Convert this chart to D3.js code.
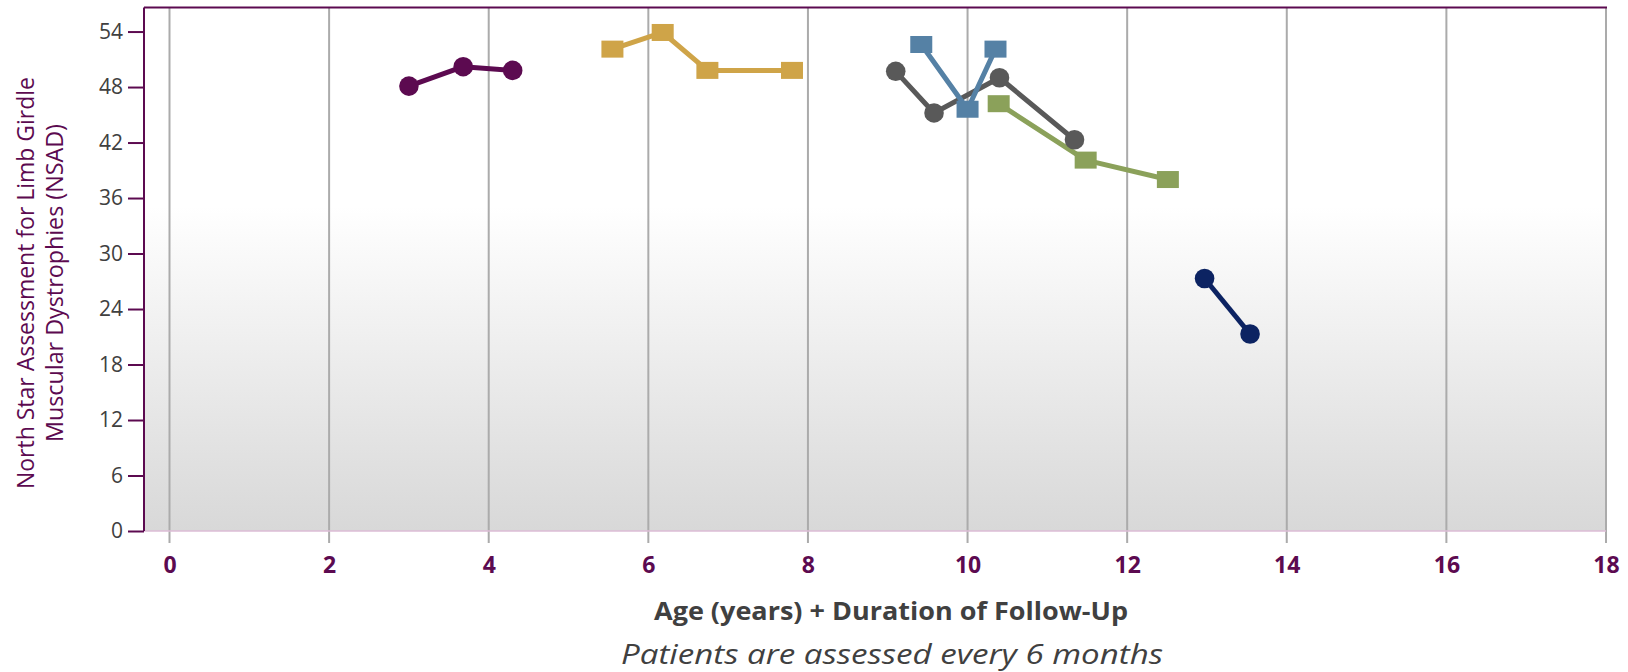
<!DOCTYPE html>
<html>
<head>
<meta charset="utf-8">
<script src="https://cdn.jsdelivr.net/npm/d3@7"></script>
<style>
  html, body { margin: 0; padding: 0; background: #ffffff; }
  svg { display: block; }
</style>
</head>
<body>
<svg id="chart" width="1628" height="672"></svg>
<script>
// ---------- data ----------
const xTicks = [0, 2, 4, 6, 8, 10, 12, 14, 16, 18];
const yTicks = [0, 6, 12, 18, 24, 30, 36, 42, 48, 54];

const patientA = [ {x: 3.00, y: 48.1}, {x: 3.68, y: 50.2}, {x: 4.30, y: 49.8} ];
const patientB = [ {x: 5.55, y: 52.1}, {x: 6.18, y: 53.9}, {x: 6.74, y: 49.8}, {x: 7.80, y: 49.8} ];
const patientE = [ {x: 10.39, y: 46.2}, {x: 11.48, y: 40.1}, {x: 12.51, y: 38.0} ];
const patientD = [ {x: 9.10, y: 49.7}, {x: 9.58, y: 45.2}, {x: 10.40, y: 49.0}, {x: 11.34, y: 42.3} ];
const patientC = [ {x: 9.42, y: 52.6}, {x: 10.00, y: 45.6}, {x: 10.35, y: 52.1} ];
const patientF = [ {x: 12.97, y: 27.3}, {x: 13.54, y: 21.3} ];

const series = [
  { name: "A", data: patientA, color: "#5c0a50", marker: "circle" },
  { name: "B", data: patientB, color: "#cfa448", marker: "square" },
  { name: "E", data: patientE, color: "#8ba15a", marker: "square" },
  { name: "D", data: patientD, color: "#595959", marker: "circle" },
  { name: "C", data: patientC, color: "#5581a5", marker: "square" },
  { name: "F", data: patientF, color: "#0c2362", marker: "circle" }
];

const xTitle = "Age (years) + Duration of Follow-Up";
const subTitle = "Patients are assessed every 6 months";
const yTitle = ["North Star Assessment for Limb Girdle", "Muscular Dystrophies (NSAD)"];

// ---------- layout ----------
const svg = d3.select("#chart");
const purple = "#5c0a50";
const font = "'Open Sans', 'Noto Sans', sans-serif";

const x = d3.scaleLinear().domain([0, 18]).range([169.5, 1606]);
const y = d3.scaleLinear().domain([0, 56.6]).range([531, 7.5]);
const plotLeft = 144, plotRight = x(18), plotTop = y(56.6), plotBottom = y(0);

// background gradient
const defs = svg.append("defs");
const grad = defs.append("linearGradient").attr("id", "bg")
  .attr("x1", 0).attr("y1", 0).attr("x2", 0).attr("y2", 1);
grad.append("stop").attr("offset", "0%").attr("stop-color", "#ffffff");
grad.append("stop").attr("offset", "38%").attr("stop-color", "#ffffff");
grad.append("stop").attr("offset", "100%").attr("stop-color", "#d8d8d8");

svg.append("rect")
  .attr("x", plotLeft).attr("y", plotTop)
  .attr("width", plotRight - plotLeft).attr("height", plotBottom - plotTop)
  .attr("fill", "url(#bg)");

// vertical gridlines (extending below as ticks)
svg.append("g").selectAll("line").data(xTicks).join("line")
  .attr("x1", d => x(d)).attr("x2", d => x(d))
  .attr("y1", plotTop).attr("y2", plotBottom + 12)
  .attr("stroke", "#ababab").attr("stroke-width", 2);

// bottom border (light pink)
svg.append("line")
  .attr("x1", plotLeft).attr("x2", plotRight)
  .attr("y1", plotBottom).attr("y2", plotBottom)
  .attr("stroke", "#dcbdd6").attr("stroke-width", 1.5);

// top border
svg.append("line")
  .attr("x1", plotLeft).attr("x2", plotRight + 1)
  .attr("y1", plotTop).attr("y2", plotTop)
  .attr("stroke", purple).attr("stroke-width", 2);

// y axis
const yAxis = d3.axisLeft(y).tickValues(yTicks).tickSize(16).tickPadding(5);
const gy = svg.append("g").attr("transform", `translate(${plotLeft},0)`).call(yAxis);
gy.select(".domain").attr("stroke", purple).attr("stroke-width", 2)
  .attr("d", `M0,${plotTop}V${plotBottom}`);
gy.selectAll(".tick line").attr("stroke", purple).attr("stroke-width", 2);
gy.selectAll(".tick text")
  .attr("fill", "#404040")
  .style("font-family", font).style("font-size", "21px");

// x tick labels
const xAxis = d3.axisBottom(x).tickValues(xTicks).tickSize(0).tickPadding(0);
const gx = svg.append("g").attr("transform", `translate(0,${plotBottom})`).call(xAxis);
gx.select(".domain").remove();
gx.selectAll(".tick text")
  .attr("y", 0).attr("dy", 0)
  .attr("transform", "translate(0,42)")
  .attr("fill", purple)
  .style("font-family", font).style("font-size", "23px").style("font-weight", "bold");

// series lines and markers
const line = d3.line().x(d => x(d.x)).y(d => y(d.y));
series.forEach(s => {
  const g = svg.append("g");
  g.append("path").datum(s.data)
    .attr("d", line)
    .attr("fill", "none").attr("stroke", s.color).attr("stroke-width", 5)
    .attr("stroke-linejoin", "round");
  if (s.marker === "circle") {
    g.selectAll("circle").data(s.data).join("circle")
      .attr("cx", d => x(d.x)).attr("cy", d => y(d.y)).attr("r", 9.8)
      .attr("fill", s.color);
  } else {
    g.selectAll("rect").data(s.data).join("rect")
      .attr("x", d => x(d.x) - 11).attr("y", d => y(d.y) - 8.5)
      .attr("width", 22).attr("height", 17)
      .attr("fill", s.color);
  }
});

// x title & subtitle
svg.append("text")
  .attr("x", 891).attr("y", 620).attr("text-anchor", "middle")
  .attr("fill", "#404040")
  .style("font-family", font).style("font-size", "25px").style("font-weight", "bold")
  .attr("textLength", 474).attr("lengthAdjust", "spacingAndGlyphs")
  .text(xTitle);

svg.append("text")
  .attr("x", 892).attr("y", 664).attr("text-anchor", "middle")
  .attr("fill", "#404040")
  .style("font-family", font).style("font-size", "28px").style("font-style", "italic")
  .attr("textLength", 542).attr("lengthAdjust", "spacingAndGlyphs")
  .text(subTitle);

// y title
const yt = svg.append("text")
  .attr("transform", "translate(0,283) rotate(-90)")
  .attr("text-anchor", "middle")
  .attr("fill", purple)
  .style("font-family", font).style("font-size", "23px");
yt.append("tspan").attr("x", 0).attr("y", 34).attr("textLength", 412)
  .attr("lengthAdjust", "spacingAndGlyphs").text(yTitle[0]);
yt.append("tspan").attr("x", 0).attr("y", 63).attr("textLength", 318)
  .attr("lengthAdjust", "spacingAndGlyphs").text(yTitle[1]);
</script>
</body>
</html>
